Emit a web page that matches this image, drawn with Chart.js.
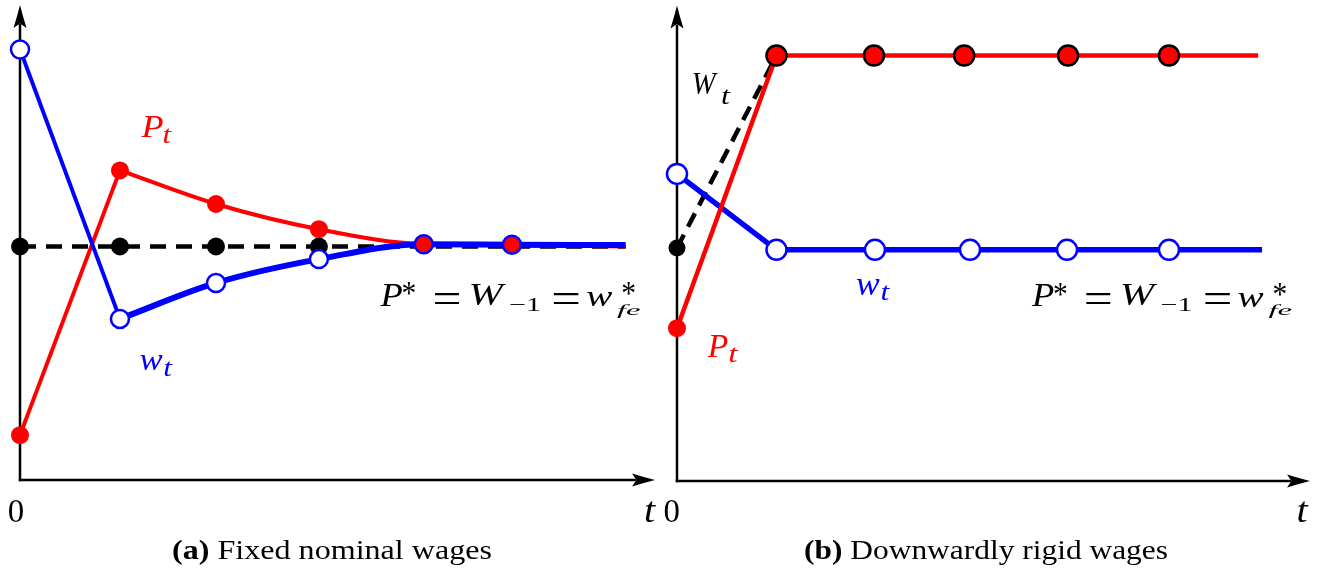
<!DOCTYPE html>
<html><head><meta charset="utf-8">
<script src="https://cdn.jsdelivr.net/npm/chart.js@4.4.1/dist/chart.umd.min.js"></script>
<style>
html,body{margin:0;padding:0;background:#fff;width:1322px;height:572px;overflow:hidden;}
canvas{position:absolute;top:0;}
#ca{left:0}
#cb{left:661px}
</style></head><body>
<canvas id="ca" width="661" height="572"></canvas>
<canvas id="cb" width="661" height="572"></canvas>
<script>
// ---------- Panel (a): Fixed nominal wages ----------
const tA = [0, 1.02, 2.0, 3.05, 4.12, 5.02];
const tAEnd = 6.18;
const wA = [9.22, 3.45, 4.22, 4.73, 5.05, 5.04];
const wAEnd = 5.03;
const PA = [0.96, 6.63, 5.91, 5.37, 5.05, 5.03];
const PAEnd = 5.0;
const WA = [5, 5, 5, 5, 5, 5];
const WAEnd = 5;
// ---------- Panel (b): Downwardly rigid wages ----------
const tBP = [0, 1.015, 2.01, 2.93, 3.99, 5.02];
const tBPEnd = 5.93;
const PB = [3.28, 9.13, 9.13, 9.13, 9.13, 9.13];
const PBEnd = 9.13;
const tBw = [0, 1.015, 2.02, 2.99, 3.98, 5.02];
const tBwEnd = 5.97;
const wB = [6.59, 4.96, 4.96, 4.96, 4.96, 4.96];
const wBEnd = 4.96;
const tBW = [0, 1.015];
const WB = [5.0, 9.13];
// ---------- text ----------
const originLabel = '0';
const timeLabel = 't';
const captionA = ['(a)', ' Fixed nominal wages'];
const captionB = ['(b)', ' Downwardly rigid wages'];

const RED = '#ff0000', BLUE = '#0000ff', BLACK = '#000000';
const SERIF = '"Liberation Serif", "DejaVu Serif", serif';
const FONTS = {
  it: s => 'italic ' + s + 'px ' + SERIF,
  up: s => s + 'px ' + SERIF,
  bd: s => 'bold ' + s + 'px ' + SERIF
};

function pts(xs, ys, xe, ye) {
  const a = xs.map((x, i) => ({x: x, y: ys[i]}));
  if (xe !== undefined) a.push({x: xe, y: ye});
  return a;
}
const isLast = c => c.dataIndex === c.dataset.data.length - 1;

function arrow(ctx, x, y, dx, dy) {
  const L = 23, N = 18.5, H = 6.5;
  const px = -dy, py = dx;
  ctx.beginPath();
  ctx.moveTo(x, y);
  ctx.quadraticCurveTo(x - dx*L*0.5 + px*H*0.45, y - dy*L*0.5 + py*H*0.45, x - dx*L + px*H, y - dy*L + py*H);
  ctx.lineTo(x - dx*N, y - dy*N);
  ctx.lineTo(x - dx*L - px*H, y - dy*L - py*H);
  ctx.quadraticCurveTo(x - dx*L*0.5 - px*H*0.45, y - dy*L*0.5 - py*H*0.45, x, y);
  ctx.closePath();
  ctx.fill();
}

const axesPlugin = {
  id: 'arrowAxes',
  beforeDatasetsDraw(chart) {
    const ctx = chart.ctx, a = chart.chartArea;
    ctx.save();
    ctx.strokeStyle = BLACK; ctx.fillStyle = BLACK; ctx.lineWidth = 2.5;
    ctx.beginPath(); ctx.moveTo(a.left, a.bottom + 1.25); ctx.lineTo(a.left, a.top + 19); ctx.stroke();
    ctx.beginPath(); ctx.moveTo(a.left - 1.25, a.bottom); ctx.lineTo(a.right - 19, a.bottom); ctx.stroke();
    arrow(ctx, a.left, a.top, 0, -1);
    arrow(ctx, a.right, a.bottom, 1, 0);
    ctx.restore();
  }
};

// draw text so that its ink sits in box [x0,x1]x[y0,y1]
// mode 'h': scale from height (limited stretch), centred horizontally; 'box': stretch to box
function boxText(ctx, text, font, b, mode) {
  ctx.font = font;
  ctx.textAlign = 'left';
  ctx.textBaseline = 'alphabetic';
  const m = ctx.measureText(text);
  const iw = m.actualBoundingBoxLeft + m.actualBoundingBoxRight;
  const ih = m.actualBoundingBoxAscent + m.actualBoundingBoxDescent;
  let sx = (b[1] - b[0]) / iw, sy = (b[3] - b[2]) / ih;
  let x0 = b[0];
  if (mode !== 'box') {
    sx = Math.min(sy * 1.3, Math.max(sy * 0.9, sx));
    x0 = (b[0] + b[1]) / 2 - iw * sx / 2;
  }
  ctx.save();
  ctx.translate(x0, b[2]);
  ctx.scale(sx, sy);
  ctx.fillText(text, m.actualBoundingBoxLeft, m.actualBoundingBoxAscent);
  ctx.restore();
}

const textPlugin = {
  id: 'texts',
  afterDraw(chart, args, opts) {
    const ctx = chart.ctx, ox = opts.offsetX || 0;
    (opts.items || []).forEach(item => {
      ctx.save();
      ctx.fillStyle = item.color || BLACK;
      ctx.translate(-ox, 0);
      if (item.caption) {
        ctx.font = FONTS.up(100);
        const mp = ctx.measureText('(');
        const size = 100 * (item.y1 - item.y0) / (mp.actualBoundingBoxAscent + mp.actualBoundingBoxDescent);
        const asc = mp.actualBoundingBoxAscent * size / 100;
        let w = 0;
        item.runs.forEach(r => { ctx.font = FONTS[r.f](size); w += ctx.measureText(r.t).width; });
        ctx.translate(item.x0, item.y0 + asc);
        ctx.scale((item.x1 - item.x0) / w, 1);
        let x = 0;
        ctx.textAlign = 'left'; ctx.textBaseline = 'alphabetic';
        item.runs.forEach(r => { ctx.font = FONTS[r.f](size); ctx.fillText(r.t, x, 0); x += ctx.measureText(r.t).width; });
      } else {
        item.runs.forEach(r => boxText(ctx, r.t, FONTS[r.f](40), r.b, r.m));
      }
      ctx.restore();
    });
  }
};

// P* = W_{-1} = w*_{fe}, ink boxes relative to the baseline origin
function mathEq(x, y) {
  const rel = [
    ['P', 'it', 0, 22.8, -21.4, 0, 'h'],
    ['*', 'up', 24.4, 34.4, -23, -10.7, 'h'],
    ['=', 'up', 55.4, 79.8, -14, -2.4, 'box'],
    ['W', 'it', 89.4, 128.4, -21.4, 0, 'h'],
    ['\u22121', 'up', 131, 160, -7.4, 5, 'box'],
    ['=', 'up', 174.4, 199.4, -14, -2.4, 'box'],
    ['w', 'it', 206.1, 233.4, -14, 0.3, 'h'],
    ['*', 'up', 243, 254.9, -23, -10.7, 'h'],
    ['fe', 'it', 237.4, 260.4, -1, 12.5, 'box']
  ];
  return {runs: rel.map(r => ({t: r[0], f: r[1], m: r[6], b: [x + r[2], x + r[3], y + r[4], y + r[5]]}))};
}

function makeChart(id, datasets, pad, xMax, yMax, items, offsetX) {
  return new Chart(document.getElementById(id), {
    type: 'line',
    data: {datasets: datasets},
    options: {
      responsive: false, animation: false, events: [],
      layout: {padding: pad, autoPadding: false},
      scales: {
        x: {type: 'linear', min: 0, max: xMax, display: false},
        y: {type: 'linear', min: 0, max: yMax, display: false}
      },
      plugins: {legend: {display: false}, tooltip: {enabled: false}, texts: {items: items, offsetX: offsetX}}
    },
    plugins: [axesPlugin, textPlugin]
  });
}

function build() {
  // ----- chart (a) -----
  const dsA = [
    { label: 'W', order: 6, clip: false, data: pts(tA, WA, tAEnd, WAEnd),
      borderColor: BLACK, borderWidth: 4.5, borderDash: [16, 10], tension: 0,
      pointRadius: c => c.dataIndex < 4 ? 9 : 0, pointBackgroundColor: BLACK, pointBorderColor: BLACK, pointBorderWidth: 0 },
    { label: 'P jump', order: 5, clip: false, data: pts(tA.slice(0, 2), PA.slice(0, 2)),
      borderColor: RED, borderWidth: 4, tension: 0,
      pointRadius: c => c.dataIndex === 0 ? 9 : 0, pointBackgroundColor: RED, pointBorderColor: RED, pointBorderWidth: 0 },
    { label: 'P', order: 4, clip: false, data: pts(tA.slice(1), PA.slice(1), tAEnd, PAEnd),
      borderColor: RED, borderWidth: 4, cubicInterpolationMode: 'monotone',
      pointRadius: c => isLast(c) ? 0 : 9, pointBackgroundColor: RED, pointBorderColor: RED, pointBorderWidth: 0 },
    { label: 'w jump', order: 3, clip: false, data: pts(tA.slice(0, 2), wA.slice(0, 2)),
      borderColor: BLUE, borderWidth: 4, tension: 0,
      pointRadius: c => c.dataIndex === 0 ? 9 : 0, pointBackgroundColor: '#fff', pointBorderColor: BLUE, pointBorderWidth: 2.5 },
    { label: 'w', order: 2, clip: false, data: pts(tA.slice(1), wA.slice(1), tAEnd, wAEnd),
      borderColor: BLUE, borderWidth: 6, cubicInterpolationMode: 'monotone',
      pointRadius: c => isLast(c) ? 0 : 9,
      pointBackgroundColor: c => c.dataIndex >= 3 ? RED : '#fff',
      pointBorderColor: BLUE, pointBorderWidth: 2.5 }
  ];
  const itemsA = [
    {runs: [{t: originLabel, f: 'up', b: [8.5, 23.3, 501, 522.3]}]},
    {runs: [{t: timeLabel, f: 'it', b: [645, 656, 502, 522]}]},
    {color: RED, runs: [{t: 'P', f: 'it', b: [140.7, 163.3, 116, 136.7]}, {t: 't', f: 'it', b: [163.3, 171.7, 129, 143.3]}]},
    {color: BLUE, runs: [{t: 'w', f: 'it', b: [139.6, 163, 355, 370.4]}, {t: 't', f: 'it', b: [164, 172.6, 362, 376]}]},
    mathEq(379.6, 305.7),
    {caption: true, x0: 172, x1: 492, y0: 539, y1: 565, runs: [{t: captionA[0], f: 'bd'}, {t: captionA[1], f: 'up'}]}
  ];
  makeChart('ca', dsA, {left: 20, right: 6, top: 5, bottom: 92}, 635 / 98, 475 / 46.7, itemsA, 0);

  // ----- chart (b) -----
  const dsB = [
    { label: 'P', order: 1, clip: false, data: pts(tBP, PB, tBPEnd, PBEnd),
      borderColor: RED, borderWidth: 4.5, tension: 0,
      pointRadius: c => isLast(c) ? 0 : (c.dataIndex === 0 ? 9 : 10),
      pointBackgroundColor: RED,
      pointBorderColor: c => c.dataIndex === 0 ? RED : BLACK,
      pointBorderWidth: c => c.dataIndex === 0 ? 0 : 2.5 },
    { label: 'w', order: 2, clip: false, data: pts(tBw, wB, tBwEnd, wBEnd),
      borderColor: BLUE, borderWidth: 5.5, tension: 0,
      pointRadius: c => isLast(c) ? 0 : 10, pointBackgroundColor: '#fff', pointBorderColor: BLUE, pointBorderWidth: 2.5 },
    { label: 'W', order: 3, clip: false, data: pts(tBW, WB),
      borderColor: BLACK, borderWidth: 4.5, borderDash: [15, 9], tension: 0,
      pointRadius: c => c.dataIndex === 0 ? 8.5 : 0, pointBackgroundColor: BLACK, pointBorderColor: BLACK, pointBorderWidth: 0 }
  ];
  const itemsB = [
    {runs: [{t: originLabel, f: 'up', b: [664.2, 679, 501, 522.3]}]},
    {runs: [{t: timeLabel, f: 'it', b: [1297.5, 1308.5, 502, 522]}]},
    {runs: [{t: 'W', f: 'it', b: [693.3, 718.3, 74, 95]}, {t: 't', f: 'it', b: [720, 732.3, 90, 104]}]},
    {color: BLUE, runs: [{t: 'w', f: 'it', b: [856, 880, 279, 295]}, {t: 't', f: 'it', b: [880.5, 890.7, 286, 300]}]},
    {color: RED, runs: [{t: 'P', f: 'it', b: [707, 728, 335, 356.7]}, {t: 't', f: 'it', b: [729, 738.5, 347, 361.7]}]},
    mathEq(1031, 306.2),
    {caption: true, x0: 804, x1: 1168, y0: 539, y1: 565, runs: [{t: captionB[0], f: 'bd'}, {t: captionB[1], f: 'up'}]}
  ];
  makeChart('cb', dsB, {left: 16, right: 12, top: 5.5, bottom: 91}, 633 / 98, 475.5 / 46.6, itemsB, 661);
}

let built = false;
function go() { if (!built) { built = true; build(); } }
if (document.fonts && document.fonts.load) {
  Promise.all([FONTS.it(40), FONTS.up(40), FONTS.bd(40)].map(f => document.fonts.load(f, 'Pw0t'))).then(go, go);
  setTimeout(go, 1500);
} else { go(); }
</script>
</body></html>
